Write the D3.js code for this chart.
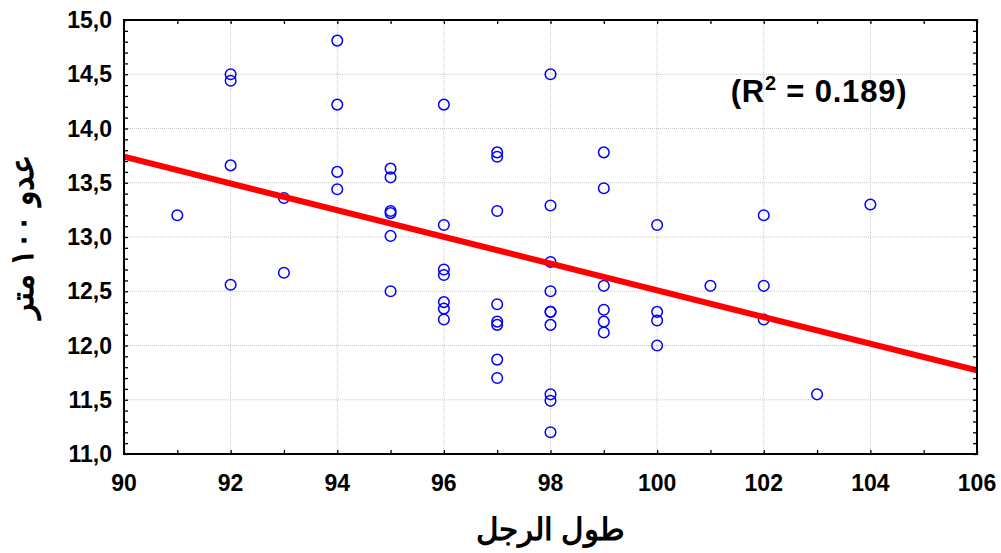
<!DOCTYPE html>
<html>
<head>
<meta charset="utf-8">
<script src="https://cdn.jsdelivr.net/npm/d3@7"></script>
<style>
  body { margin: 0; background: #fff; }
  text { font-family: Arial, "Liberation Sans", sans-serif; font-weight: bold; fill: #000; }
</style>
</head>
<body>
<div id="chart"></div>
<script>
// leg length (x) and 100 m sprint time (y)
const legLength = [91, 92, 92, 92, 92, 93, 93, 94, 94, 94, 94,
  95, 95, 95, 95, 95, 95, 96, 96, 96, 96, 96, 96, 96,
  97, 97, 97, 97, 97, 97, 97, 97,
  98, 98, 98, 98, 98, 98, 98, 98, 98, 98,
  99, 99, 99, 99, 99, 99, 100, 100, 100, 100,
  101, 102, 102, 102, 103, 104];
const sprint100 = [13.20, 14.50, 14.44, 13.66, 12.56, 13.36, 12.67, 14.81, 14.22, 13.60, 13.44,
  13.63, 13.55, 13.24, 13.22, 13.01, 12.50, 14.22, 13.11, 12.70, 12.65, 12.40, 12.34, 12.24,
  13.78, 13.74, 13.24, 12.38, 12.22, 12.19, 11.87, 11.70,
  14.50, 13.29, 12.77, 12.50, 12.31, 12.19, 11.55, 11.49, 11.20, 12.31,
  13.78, 13.45, 12.55, 12.33, 12.22, 12.12, 13.11, 12.31, 12.23, 12.00,
  12.55, 13.20, 12.55, 12.24, 11.55, 13.30];

// fitted regression line end points
const fitX = [90, 106];
const fitY = [13.74, 11.77];

const xTicks = [90, 92, 94, 96, 98, 100, 102, 104, 106];
const yTicks = [11.0, 11.5, 12.0, 12.5, 13.0, 13.5, 14.0, 14.5, 15.0];

const xTitle = "طول الرجل";
const yTitle = "عدو ١٠٠ متر";
const r2Value = "0.189";

const width = 1001, height = 553;
const margin = { top: 20, right: 24, bottom: 99, left: 124 };
const w = width - margin.left - margin.right;
const h = height - margin.top - margin.bottom;

const svg = d3.select("#chart").append("svg")
  .attr("width", width)
  .attr("height", height);

const g = svg.append("g")
  .attr("transform", "translate(" + margin.left + "," + margin.top + ")");

const x = d3.scaleLinear().domain([90, 106]).range([0, w]);
const y = d3.scaleLinear().domain([11, 15]).range([h, 0]);

// grid lines
g.append("g").selectAll("line")
  .data(xTicks.slice(1, -1))
  .join("line")
  .attr("x1", d => x(d)).attr("x2", d => x(d))
  .attr("y1", 0).attr("y2", h)
  .attr("stroke", "#c8c8c8").attr("stroke-width", 1)
  .attr("stroke-dasharray", "1,1");

g.append("g").selectAll("line")
  .data(yTicks.slice(1, -1))
  .join("line")
  .attr("x1", 0).attr("x2", w)
  .attr("y1", d => y(d)).attr("y2", d => y(d))
  .attr("stroke", "#c8c8c8").attr("stroke-width", 1)
  .attr("stroke-dasharray", "1,1");

// clip for the fit line
g.append("defs").append("clipPath").attr("id", "clip")
  .append("rect").attr("width", w).attr("height", h);

// data points
g.append("g").selectAll("circle")
  .data(legLength.map((d, i) => [d, sprint100[i]]))
  .join("circle")
  .attr("cx", d => x(d[0]))
  .attr("cy", d => y(d[1]))
  .attr("r", 5.3)
  .attr("fill", "none")
  .attr("stroke", "#0000ff")
  .attr("stroke-width", 1.5);

// regression line
g.append("line")
  .attr("clip-path", "url(#clip)")
  .attr("x1", x(fitX[0])).attr("y1", y(fitY[0]))
  .attr("x2", x(fitX[1])).attr("y2", y(fitY[1]))
  .attr("stroke", "#ff0000")
  .attr("stroke-width", 6);

// axes: ticks inside on all four sides
const minorX = d3.range(90, 106.01, 1);
const minorY = d3.range(11, 15.001, 0.1);

g.append("g").attr("transform", "translate(0," + h + ")")
  .call(d3.axisBottom(x).tickValues(minorX).tickSize(-4).tickFormat(""))
  .call(a => a.select(".domain").remove());
g.append("g")
  .call(d3.axisTop(x).tickValues(minorX).tickSize(-4).tickFormat(""))
  .call(a => a.select(".domain").remove());
g.append("g")
  .call(d3.axisLeft(y).tickValues(minorY).tickSize(-4).tickFormat(""))
  .call(a => a.select(".domain").remove());
g.append("g").attr("transform", "translate(" + w + ",0)")
  .call(d3.axisRight(y).tickValues(minorY).tickSize(-4).tickFormat(""))
  .call(a => a.select(".domain").remove());

g.selectAll(".tick line").attr("stroke", "#000").attr("stroke-width", 1.3);

g.append("rect")
  .attr("width", w).attr("height", h)
  .attr("fill", "none").attr("stroke", "#000").attr("stroke-width", 2);

// tick labels
g.append("g").selectAll("text")
  .data(xTicks)
  .join("text")
  .attr("x", d => x(d))
  .attr("y", h + 37)
  .attr("text-anchor", "middle")
  .attr("font-size", 23)
  .text(d => d);

const fmt = d => d3.format(".1f")(d).replace(".", ",");
g.append("g").selectAll("text")
  .data(yTicks)
  .join("text")
  .attr("x", -12)
  .attr("y", d => y(d))
  .attr("dy", "0.35em")
  .attr("text-anchor", "end")
  .attr("font-size", 23)
  .text(fmt);

// R squared annotation
const r2 = g.append("text")
  .attr("x", x(101.38))
  .attr("y", y(14.24))
  .attr("font-size", 31)
  .attr("letter-spacing", 0.8);
r2.append("tspan").text("(R");
r2.append("tspan").attr("font-size", 20).attr("dy", -12).text("2");
r2.append("tspan").attr("dy", 12).text(" = " + r2Value + ")");

// axis titles
svg.append("text")
  .attr("x", margin.left + w / 2)
  .attr("y", 540)
  .attr("text-anchor", "middle")
  .attr("font-size", 31)
  .attr("direction", "rtl")
  .text(xTitle);

svg.append("text")
  .attr("transform", "translate(33," + (margin.top + h / 2) + ") rotate(-90)")
  .attr("text-anchor", "middle")
  .attr("font-size", 32)
  .text(yTitle);
</script>
</body>
</html>
